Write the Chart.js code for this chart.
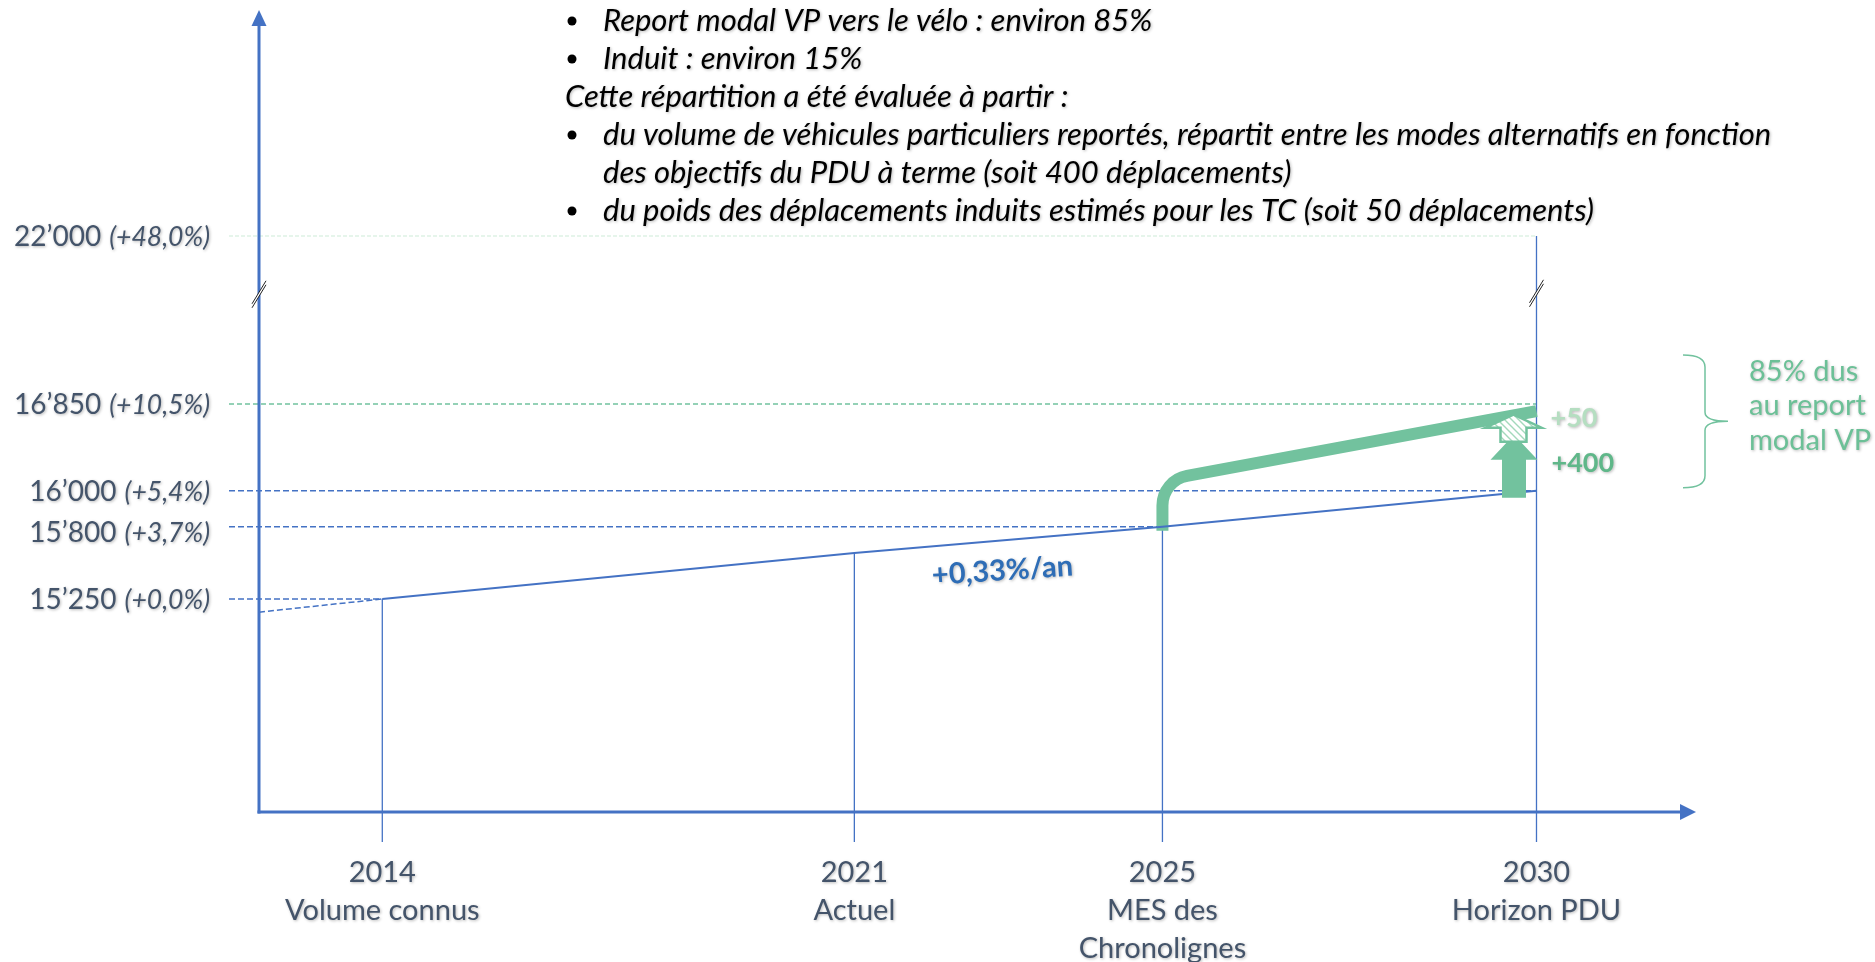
<!DOCTYPE html>
<html lang="fr">
<head>
<meta charset="utf-8">
<title>Trafic - horizon PDU</title>
<script src="https://cdn.jsdelivr.net/npm/chart.js@4.4.1/dist/chart.umd.min.js"></script>
<style>
  html, body { margin: 0; padding: 0; background: #fff; overflow: hidden; }
</style>
</head>
<body>
<canvas id="myChart" width="1875" height="962"></canvas>
<script>
// jalons
const years = [2014, 2021, 2025, 2030];
const yearLabels = [['2014', 'Volume connus'], ['2021', 'Actuel'], ['2025', 'MES des', 'Chronolignes'], ['2030', 'Horizon PDU']];
const trendValues = [15250, 15600, 15800, 16000];

// projection avec le PDU
const pduYears = [2025, 2025, 2030];
const pduValues = [15800, 16100, 16780];

// graduations
const tickValues = [22000, 16850, 16000, 15800, 15250];
const tickLabels = ['22’000', '16’850', '16’000', '15’800', '15’250'];
const tickPct = ['(+48,0%)', '(+10,5%)', '(+5,4%)', '(+3,7%)', '(+0,0%)'];
const tickUntil = [2030, 2030, 2030, 2025, 2014];

const growthLabel = '+0,33%/an';
const gainLabels = ['+400', '+50'];
const shareLines = ['85% dus', 'au report', 'modal VP'];

const noteLines = [
  'Report modal VP vers le vélo : environ 85%',
  'Induit : environ 15%',
  'Cette répartition a été évaluée à partir :',
  'du volume de véhicules particuliers reportés, répartit entre les modes alternatifs en fonction',
  'des objectifs du PDU à terme (soit 400 déplacements)',
  'du poids des déplacements induits estimés pour les TC (soit 50 déplacements)'
];
const noteKinds = ['puce', 'puce', 'texte', 'puce', 'suite', 'puce'];

const blue = '#4472C4';
const green = '#72C29E';
const greenPale = '#CDEBD7';
const grey = '#44546A';
const font = 'Lato, "Noto Sans", sans-serif';

// echelle "cassee" : valeurs -> fraction de l'axe, lineaire par morceaux
class PiecewiseScale extends Chart.LinearScale {
  static id = 'piecewise';
  frac(value) {
    const k = this.options.knots;
    let i = 1;
    while (i < k.length - 1 && value > k[i][0]) i++;
    const a = k[i - 1], b = k[i];
    return a[1] + (value - a[0]) * (b[1] - a[1]) / (b[0] - a[0]);
  }
  getPixelForValue(value) {
    if (value === null || value === undefined || isNaN(value)) return NaN;
    const f = this.frac(value);
    return this.isHorizontal() ? this.left + f * this.width : this.bottom - f * this.height;
  }
  getValueForPixel(pixel) {
    const f = this.isHorizontal() ? (pixel - this.left) / this.width : (this.bottom - pixel) / this.height;
    const k = this.options.knots;
    let i = 1;
    while (i < k.length - 1 && f > k[i][1]) i++;
    const a = k[i - 1], b = k[i];
    return a[0] + (f - a[1]) * (b[0] - a[0]) / (b[1] - a[1]);
  }
}
Chart.register(PiecewiseScale);

const xMin = 2012;
const rate = (trendValues[2] - trendValues[0]) / (years[2] - years[0]);

function shadowText(ctx, txt, x, y, color) {
  ctx.save();
  ctx.shadowColor = 'rgba(0,0,0,0.28)';
  ctx.shadowBlur = 3;
  ctx.shadowOffsetX = 1;
  ctx.shadowOffsetY = 1;
  ctx.fillStyle = color;
  ctx.fillText(txt, x, y);
  ctx.restore();
}

function seg(ctx, x1, y1, x2, y2) {
  ctx.beginPath();
  ctx.moveTo(x1, y1);
  ctx.lineTo(x2, y2);
  ctx.stroke();
}

function upArrow(ctx, cx, bottom, headBase, tip, halfBody, halfHead) {
  ctx.beginPath();
  ctx.moveTo(cx - halfBody, bottom);
  ctx.lineTo(cx - halfBody, headBase);
  ctx.lineTo(cx - halfHead, headBase);
  ctx.lineTo(cx, tip);
  ctx.lineTo(cx + halfHead, headBase);
  ctx.lineTo(cx + halfBody, headBase);
  ctx.lineTo(cx + halfBody, bottom);
  ctx.closePath();
}

function breakMark(ctx, cx, cy) {
  ctx.save();
  ctx.translate(cx, cy);
  ctx.fillStyle = '#fff';
  ctx.beginPath();
  ctx.moveTo(-7, 9); ctx.lineTo(7, -14); ctx.lineTo(7, -10); ctx.lineTo(-7, 13);
  ctx.closePath();
  ctx.fill();
  ctx.strokeStyle = '#222';
  ctx.lineWidth = 1;
  seg(ctx, -7, 9, 7, -14);
  seg(ctx, -7, 13, 7, -10);
  ctx.restore();
}

const hatch = (() => {
  const c = document.createElement('canvas');
  c.width = 7; c.height = 7;
  const g = c.getContext('2d');
  g.fillStyle = '#fff';
  g.fillRect(0, 0, 7, 7);
  g.strokeStyle = '#A3D9BC';
  g.lineWidth = 1.4;
  g.beginPath();
  g.moveTo(-1, -1); g.lineTo(8, 8);
  g.moveTo(-1, 6); g.lineTo(1, 8);
  g.moveTo(6, -1); g.lineTo(8, 1);
  g.stroke();
  return c;
})();

const schema = {
  id: 'schema',
  beforeDatasetsDraw(chart) {
    const {ctx, chartArea: a, scales: {x, y}} = chart;
    // lignes de rappel horizontales
    tickValues.forEach((v, i) => {
      const py = y.getPixelForValue(v);
      const px = x.getPixelForValue(tickUntil[i]);
      ctx.save();
      ctx.setLineDash(i === 0 ? [4, 2] : i === 1 ? [5, 3] : [6, 3]);
      ctx.strokeStyle = i === 0 ? greenPale : i === 1 ? green : blue;
      ctx.lineWidth = i === 0 ? 1 : 1.5;
      seg(ctx, a.left - 30, py, px, py);
      ctx.restore();
    });
    // verticales des jalons
    ctx.save();
    ctx.strokeStyle = blue;
    ctx.lineWidth = 1.3;
    years.forEach((yr, i) => {
      const px = x.getPixelForValue(yr);
      const top = i === years.length - 1 ? y.getPixelForValue(tickValues[0]) : y.getPixelForValue(trendValues[i]);
      seg(ctx, px, top, px, a.bottom + 30);
    });
    ctx.restore();
  },
  beforeDatasetDraw(chart, args) {
    if (args.index !== 2) return;
    const pts = args.meta.data;
    const ctx = chart.ctx;
    ctx.save();
    ctx.strokeStyle = green;
    ctx.lineWidth = 12;
    ctx.lineCap = 'butt';
    ctx.beginPath();
    ctx.moveTo(pts[0].x, pts[0].y + 4);
    ctx.arcTo(pts[1].x, pts[1].y, pts[2].x, pts[2].y, 30);
    ctx.lineTo(pts[2].x, pts[2].y);
    ctx.stroke();
    ctx.restore();
    return false;
  },
  afterDatasetsDraw(chart) {
    const {ctx, chartArea: a, scales: {x, y}} = chart;

    // axes avec fleches
    ctx.save();
    ctx.strokeStyle = blue;
    ctx.fillStyle = blue;
    ctx.lineWidth = 3;
    seg(ctx, a.left, a.bottom + 1.5, a.left, a.top + 15);
    seg(ctx, a.left - 1.5, a.bottom, a.right - 15, a.bottom);
    ctx.beginPath();
    ctx.moveTo(a.left, a.top); ctx.lineTo(a.left - 7.5, a.top + 16); ctx.lineTo(a.left + 7.5, a.top + 16);
    ctx.closePath(); ctx.fill();
    ctx.beginPath();
    ctx.moveTo(a.right, a.bottom); ctx.lineTo(a.right - 16, a.bottom - 8); ctx.lineTo(a.right - 16, a.bottom + 8);
    ctx.closePath(); ctx.fill();
    ctx.restore();

    // graduations (les libelles trop proches sont decales vers le bas)
    ctx.save();
    ctx.textAlign = 'right';
    ctx.textBaseline = 'alphabetic';
    let prev = -Infinity;
    tickValues.forEach((v, i) => {
      const cy = Math.max(y.getPixelForValue(v), prev + 41);
      prev = cy;
      const py = cy + 10;
      const right = a.left - 49;
      ctx.font = 'italic 26.5px ' + font;
      const w = ctx.measureText(tickPct[i]).width;
      shadowText(ctx, tickPct[i], right, py, grey);
      ctx.font = '28px ' + font;
      shadowText(ctx, tickLabels[i], right - w - 8, py, grey);
    });
    ctx.restore();

    // libelles des jalons
    ctx.save();
    ctx.textAlign = 'center';
    ctx.font = '29px ' + font;
    years.forEach((yr, i) => {
      const px = x.getPixelForValue(yr);
      yearLabels[i].forEach((t, j) => shadowText(ctx, t, px, a.bottom + 70 + j * 38, grey));
    });
    ctx.restore();

    // taux annuel
    const x1 = x.getPixelForValue(years[1]), x2 = x.getPixelForValue(years[2]);
    const y1 = y.getPixelForValue(trendValues[1]), y2 = y.getPixelForValue(trendValues[2]);
    ctx.save();
    ctx.translate((x1 + x2) / 2 - 6, (y1 + y2) / 2 + 31);
    ctx.rotate(Math.atan2(y2 - y1, x2 - x1) * 0.8);
    ctx.font = 'bold 29px ' + font;
    ctx.textAlign = 'center';
    ctx.textBaseline = 'middle';
    shadowText(ctx, growthLabel, 0, 0, '#2E6DB6');
    ctx.restore();

    // fleches +400 / +50
    const x30 = x.getPixelForValue(years[3]);
    const y16 = y.getPixelForValue(trendValues[3]);
    const yTop = y.getPixelForValue(tickValues[1]);
    ctx.save();
    ctx.fillStyle = green;
    upArrow(ctx, x30 - 22.5, y16 + 7, y16 - 31, y16 - 56, 12, 23.5);
    ctx.fill();
    upArrow(ctx, x30 - 23, y16 - 49, y16 - 63, y16 - 76, 13, 28);
    ctx.fillStyle = ctx.createPattern(hatch, 'repeat');
    ctx.fill();
    ctx.strokeStyle = green;
    ctx.lineWidth = 2.5;
    ctx.stroke();
    ctx.font = 'bold 27px ' + font;
    ctx.textAlign = 'left';
    shadowText(ctx, gainLabels[1], x30 + 14, yTop + 23, '#B5DEC1');
    shadowText(ctx, gainLabels[0], x30 + 15, y16 - 19, '#5FB789');
    ctx.restore();

    // accolade
    const bx = a.right - 13, top = yTop - 49, bottom = y16 - 3, mid = (top + bottom) / 2;
    const vx = bx + 22, tipx = bx + 45;
    ctx.save();
    ctx.strokeStyle = green;
    ctx.lineWidth = 1.5;
    ctx.beginPath();
    ctx.moveTo(bx, top);
    ctx.quadraticCurveTo(vx, top, vx, top + 12);
    ctx.lineTo(vx, mid - 9);
    ctx.quadraticCurveTo(vx, mid, tipx, mid);
    ctx.quadraticCurveTo(vx, mid, vx, mid + 9);
    ctx.lineTo(vx, bottom - 12);
    ctx.quadraticCurveTo(vx, bottom, bx, bottom);
    ctx.stroke();
    ctx.font = '29px ' + font;
    ctx.textAlign = 'left';
    shareLines.forEach((t, j) => shadowText(ctx, t, a.right + 53, mid - 40.5 + j * 34.5, '#6CC097'));
    ctx.restore();

    // coupures d'axe
    const yb = y.getPixelForValue(tickValues[0]) + 0.35 * (yTop - y.getPixelForValue(tickValues[0]));
    breakMark(ctx, a.left, yb);
    breakMark(ctx, x30, yb - 1);

    // texte explicatif
    ctx.save();
    ctx.font = 'italic 31px ' + font;
    ctx.textAlign = 'left';
    noteLines.forEach((t, i) => {
      const base = 31 + i * 38;
      const tx = noteKinds[i] === 'texte' ? 565 : 603;
      if (noteKinds[i] === 'puce') {
        ctx.save();
        ctx.fillStyle = '#000';
        ctx.beginPath();
        ctx.arc(572, base - 10, 4.5, 0, Math.PI * 2);
        ctx.fill();
        ctx.restore();
      }
      shadowText(ctx, t, tx, base, '#000');
    });
    ctx.restore();
  }
};

const ctx = document.getElementById('myChart');
new Chart(ctx, {
  type: 'line',
  data: {
    datasets: [
      {
        label: 'Tendance',
        data: years.map((yr, i) => ({x: yr, y: trendValues[i]})),
        borderColor: blue,
        borderWidth: 2,
        pointRadius: 0
      },
      {
        label: 'Prolongement',
        data: [{x: xMin, y: trendValues[0] - rate * (years[0] - xMin)}, {x: years[0], y: trendValues[0]}],
        borderColor: blue,
        borderWidth: 1.5,
        borderDash: [6, 3],
        pointRadius: 0
      },
      {
        label: 'Avec PDU',
        data: pduYears.map((yr, i) => ({x: yr, y: pduValues[i]})),
        borderColor: green,
        borderWidth: 12,
        pointRadius: 0
      }
    ]
  },
  options: {
    responsive: false,
    animation: false,
    layout: {padding: {left: 259, right: 179, top: 10, bottom: 150}},
    plugins: {legend: {display: false}, tooltip: {enabled: false}},
    scales: {
      x: {
        type: 'piecewise', display: false, min: xMin, max: 2032,
        knots: [[2012, 0], [2014, 0.0858], [2021, 0.4143], [2025, 0.6287], [2030, 0.889], [2032, 1]]
      },
      y: {
        type: 'piecewise', display: false, min: 13630, max: 28900,
        knots: [[13630, 0], [15250, 0.2656], [15800, 0.3557], [16000, 0.4006], [16850, 0.5087], [22000, 0.7182], [28900, 1]]
      }
    }
  },
  plugins: [schema]
});
</script>
</body>
</html>
